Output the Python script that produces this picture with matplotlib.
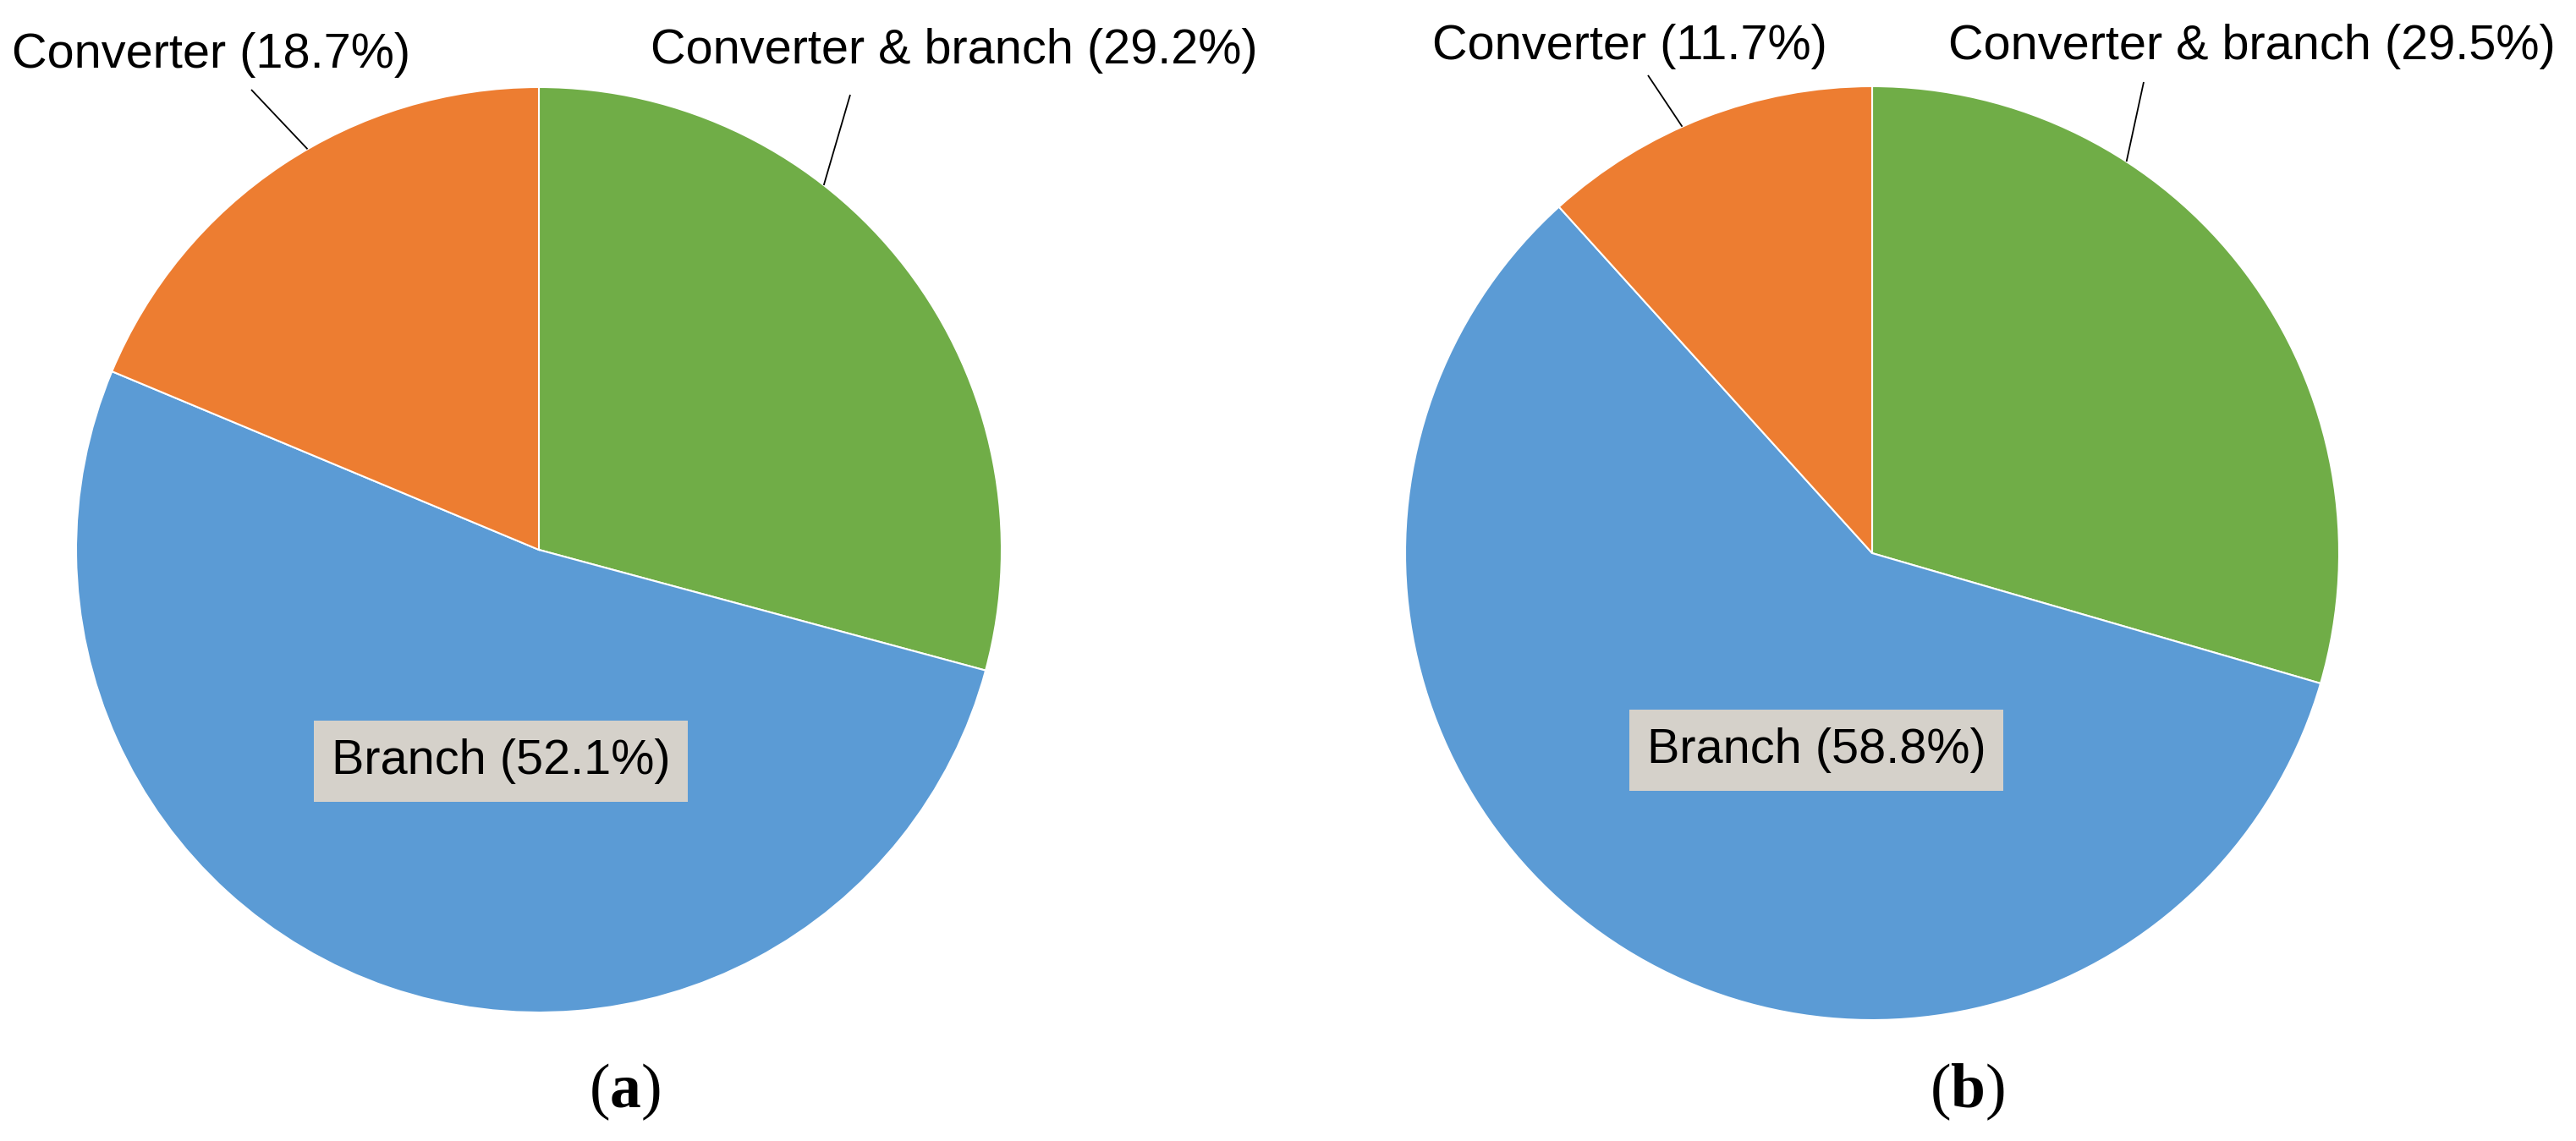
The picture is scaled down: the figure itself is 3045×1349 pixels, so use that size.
import numpy as np
import matplotlib
matplotlib.use("Agg")
import matplotlib.pyplot as plt

# ---- data ----
categories = ["Converter & branch", "Branch", "Converter"]
share_a = [29.2, 52.1, 18.7]
share_b = [29.5, 58.8, 11.7]
colors = ["#70AD47", "#5B9BD5", "#ED7D31"]
panel_tags = ["a", "b"]

plt.rcParams["mathtext.fontset"] = "custom"
plt.rcParams["mathtext.rm"] = "Liberation Serif"
plt.rcParams["mathtext.bf"] = "Liberation Serif:bold"

W, H = 3045, 1349
fig = plt.figure(figsize=(W / 100, H / 100), dpi=100)
fig.patch.set_facecolor("white")

LABEL_FONT = "Liberation Sans"
FS = 41.5

# layout (pixels, from the top-left of the figure)
panels = [
    dict(values=share_a, cx=637, cy=650, r=547,
         # (text centre x, baseline y, leader start x, leader start y, leader angle)
         outer={"Converter": (250, 80, 297, 106, 120),
                "Converter & branch": (1128, 75, 1005, 112, 52)},
         inner_xy=(592, 915), tag_xy=(738, 1291)),
    dict(values=share_b, cx=2213, cy=654, r=552,
         outer={"Converter": (1926, 70, 1948, 89, 114),
                "Converter & branch": (2662, 70, 2534, 97, 57)},
         inner_xy=(2147, 902), tag_xy=(2325, 1291)),
]

for p, tag in zip(panels, panel_tags):
    cx, cy, r = p["cx"], p["cy"], p["r"]
    ax = fig.add_axes([(cx - r) / W, (H - cy - r) / H, 2 * r / W, 2 * r / H])
    ax.pie(p["values"], colors=colors, startangle=90, counterclock=False,
           radius=1.0, wedgeprops=dict(edgecolor="white", linewidth=1.5))
    ax.set_xlim(-1, 1)
    ax.set_ylim(-1, 1)
    ax.axis("off")

    def to_data(px, py):
        return (px - cx) / r, (cy - py) / r

    for cat, val in zip(categories, p["values"]):
        label = f"{cat} ({val:.1f}%)"
        if cat in p["outer"]:
            tx, ty, sx, sy, ang = p["outer"][cat]
            x, y = to_data(tx, ty)
            ax.text(x, y, label, ha="center", va="baseline", fontsize=FS,
                    family=LABEL_FONT, color="black", clip_on=False)
            lx, ly = to_data(sx, sy)
            ex, ey = np.cos(np.radians(ang)), np.sin(np.radians(ang))
            ax.plot([lx, ex], [ly, ey], color="black", lw=1.3,
                    clip_on=False, solid_capstyle="butt")
        else:
            x, y = to_data(*p["inner_xy"])
            ax.text(x, y, label, ha="center", va="baseline", fontsize=FS,
                    family=LABEL_FONT, color="black", clip_on=False,
                    bbox=dict(boxstyle="square,pad=0.36", fc="#D5D1CA",
                              ec="none"))

    fig.text(p["tag_xy"][0] / W, 1 - p["tag_xy"][1] / H,
             r"($\mathbf{" + tag + r"}$)", ha="center", va="center",
             fontsize=53, family="Liberation Serif", color="black")

fig.savefig("out.png", dpi=100, facecolor="white")
